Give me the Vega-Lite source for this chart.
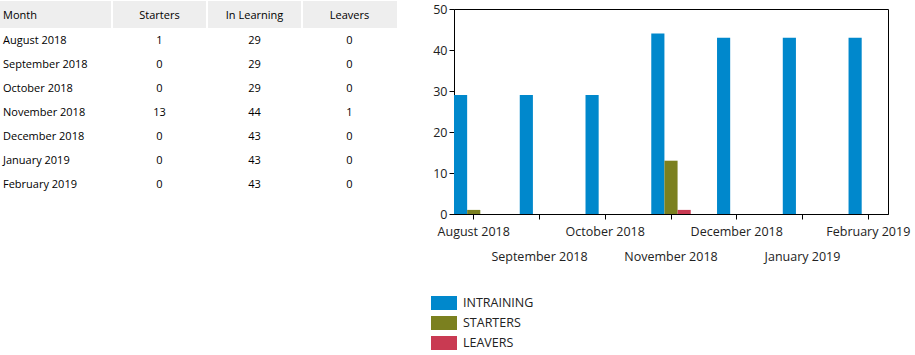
{
  "$schema": "https://vega.github.io/schema/vega-lite/v6.json",
  "padding": 0,
  "background": "white",
  "config": {"view": {"stroke": null}, "font": "Open Sans"},
  "datasets": {
    "table": [
      {"month": "August 2018", "starters": 1, "inLearning": 29, "leavers": 0},
      {"month": "September 2018", "starters": 0, "inLearning": 29, "leavers": 0},
      {"month": "October 2018", "starters": 0, "inLearning": 29, "leavers": 0},
      {"month": "November 2018", "starters": 13, "inLearning": 44, "leavers": 1},
      {"month": "December 2018", "starters": 0, "inLearning": 43, "leavers": 0},
      {"month": "January 2019", "starters": 0, "inLearning": 43, "leavers": 0},
      {"month": "February 2019", "starters": 0, "inLearning": 43, "leavers": 0}
    ],
    "bars": [
      {"month": "August 2018", "series": "INTRAINING", "value": 29},
      {"month": "August 2018", "series": "STARTERS", "value": 1},
      {"month": "August 2018", "series": "LEAVERS", "value": 0},
      {"month": "September 2018", "series": "INTRAINING", "value": 29},
      {"month": "September 2018", "series": "STARTERS", "value": 0},
      {"month": "September 2018", "series": "LEAVERS", "value": 0},
      {"month": "October 2018", "series": "INTRAINING", "value": 29},
      {"month": "October 2018", "series": "STARTERS", "value": 0},
      {"month": "October 2018", "series": "LEAVERS", "value": 0},
      {"month": "November 2018", "series": "INTRAINING", "value": 44},
      {"month": "November 2018", "series": "STARTERS", "value": 13},
      {"month": "November 2018", "series": "LEAVERS", "value": 1},
      {"month": "December 2018", "series": "INTRAINING", "value": 43},
      {"month": "December 2018", "series": "STARTERS", "value": 0},
      {"month": "December 2018", "series": "LEAVERS", "value": 0},
      {"month": "January 2019", "series": "INTRAINING", "value": 43},
      {"month": "January 2019", "series": "STARTERS", "value": 0},
      {"month": "January 2019", "series": "LEAVERS", "value": 0},
      {"month": "February 2019", "series": "INTRAINING", "value": 43},
      {"month": "February 2019", "series": "STARTERS", "value": 0},
      {"month": "February 2019", "series": "LEAVERS", "value": 0}
    ],
    "headers": [
      {"col": "Month"}, {"col": "Starters"}, {"col": "In Learning"}, {"col": "Leavers"}
    ]
  },
  "spacing": 35,
  "hconcat": [
    {
      "spacing": 0,
      "vconcat": [
        {
          "width": 397,
          "height": 27,
          "view": {"fill": "#eeeeee", "stroke": null},
          "data": {"name": "headers"},
          "layer": [
            {
              "transform": [{"filter": "datum.col !== 'Month'"}],
              "mark": {"type": "rule", "color": "white", "strokeWidth": 2},
              "encoding": {
                "x": {"field": "col", "type": "nominal", "bandPosition": 0, "axis": null,
                  "scale": {"type": "band", "domain": ["Month", "Starters", "In Learning", "Leavers"], "paddingInner": 0, "paddingOuter": 0.0895, "align": 1}}
              }
            },
            {
              "transform": [{"filter": "datum.col === 'Month'"}],
              "mark": {"type": "text", "align": "left", "dx": -14, "dy": 1.5, "fontSize": 11, "color": "black"},
              "encoding": {
                "x": {"field": "col", "type": "nominal", "bandPosition": 0, "axis": null},
                "text": {"field": "col"}
              }
            },
            {
              "transform": [{"filter": "datum.col !== 'Month'"}],
              "mark": {"type": "text", "align": "center", "dy": 1.5, "fontSize": 11, "color": "black"},
              "encoding": {
                "x": {"field": "col", "type": "nominal", "axis": null},
                "text": {"field": "col"}
              }
            }
          ]
        },
        {
          "width": 397,
          "height": 168,
          "data": {"name": "table"},
          "encoding": {
            "y": {"field": "month", "type": "nominal", "sort": null, "axis": null, "scale": {"type": "point", "padding": 0.5}}
          },
          "layer": [
            {
              "mark": {"type": "text", "align": "left", "dx": -14, "dy": -0.5, "fontSize": 11, "color": "black"},
              "encoding": {
                "x": {"datum": "Month", "type": "nominal", "bandPosition": 0, "axis": null,
                  "scale": {"type": "band", "domain": ["Month", "Starters", "In Learning", "Leavers"], "paddingInner": 0, "paddingOuter": 0.0895, "align": 1}},
                "text": {"field": "month"}
              }
            },
            {
              "mark": {"type": "text", "align": "center", "dy": -0.5, "fontSize": 11, "color": "black"},
              "encoding": {
                "x": {"datum": "Starters", "type": "nominal", "axis": null},
                "text": {"field": "starters"}
              }
            },
            {
              "mark": {"type": "text", "align": "center", "dy": -0.5, "fontSize": 11, "color": "black"},
              "encoding": {
                "x": {"datum": "In Learning", "type": "nominal", "axis": null},
                "text": {"field": "inLearning"}
              }
            },
            {
              "mark": {"type": "text", "align": "center", "dy": -0.5, "fontSize": 11, "color": "black"},
              "encoding": {
                "x": {"datum": "Leavers", "type": "nominal", "axis": null},
                "text": {"field": "leavers"}
              }
            }
          ]
        }
      ]
    },
    {
      "spacing": 0,
      "vconcat": [
        {
          "width": 434,
          "height": 0.5,
          "data": {"values": [{"a": 1}]},
          "mark": {"type": "rect", "opacity": 0},
          "encoding": {}
        },
        {
          "width": 434,
          "height": 205,
          "view": {"stroke": "black", "strokeWidth": 1},
          "data": {"name": "bars"},
          "mark": {"type": "bar"},
          "encoding": {
            "x": {
              "field": "month", "type": "nominal",
              "scale": {"domain": ["August 2018", "September 2018", "October 2018", "November 2018", "December 2018", "January 2019", "February 2019"], "paddingInner": 0.4, "paddingOuter": 0},
              "axis": {
                "title": null, "labelAngle": 0, "labelOverlap": false,
                "labelExpr": "indexof(['September 2018','November 2018','January 2019'], datum.value) >= 0 ? ['', datum.label] : datum.label",
                "labelLineHeight": 25, "labelFontSize": 12.5, "labelColor": "#222222", "labelPadding": 6.5,
                "tickSize": 5, "tickColor": "black", "domainColor": "black", "grid": false
              }
            },
            "xOffset": {"field": "series", "type": "nominal", "scale": {"domain": ["INTRAINING", "STARTERS", "LEAVERS"]}},
            "y": {
              "field": "value", "type": "quantitative",
              "scale": {"domain": [0, 50]},
              "axis": {
                "title": null, "values": [0, 10, 20, 30, 40, 50], "tickSize": 5, "labelPadding": 2,
                "labelFontSize": 12.5, "labelColor": "#222222", "grid": false,
                "domainColor": "black", "tickColor": "black"
              }
            },
            "color": {
              "field": "series", "type": "nominal",
              "scale": {"domain": ["INTRAINING", "STARTERS", "LEAVERS"], "range": ["#0088cc", "#7b801f", "#c93a52"]},
              "legend": {
                "title": null, "orient": "none", "legendX": 437, "legendY": 295,
                "symbolType": "M-1.86,-1H1.86V1H-1.86Z", "symbolSize": 196, "symbolStrokeWidth": 0,
                "labelFontSize": 12.5, "labelOffset": 12, "rowPadding": 6, "padding": 0,
                "labelColor": "#222222"
              }
            }
          }
        }
      ]
    }
  ]
}
